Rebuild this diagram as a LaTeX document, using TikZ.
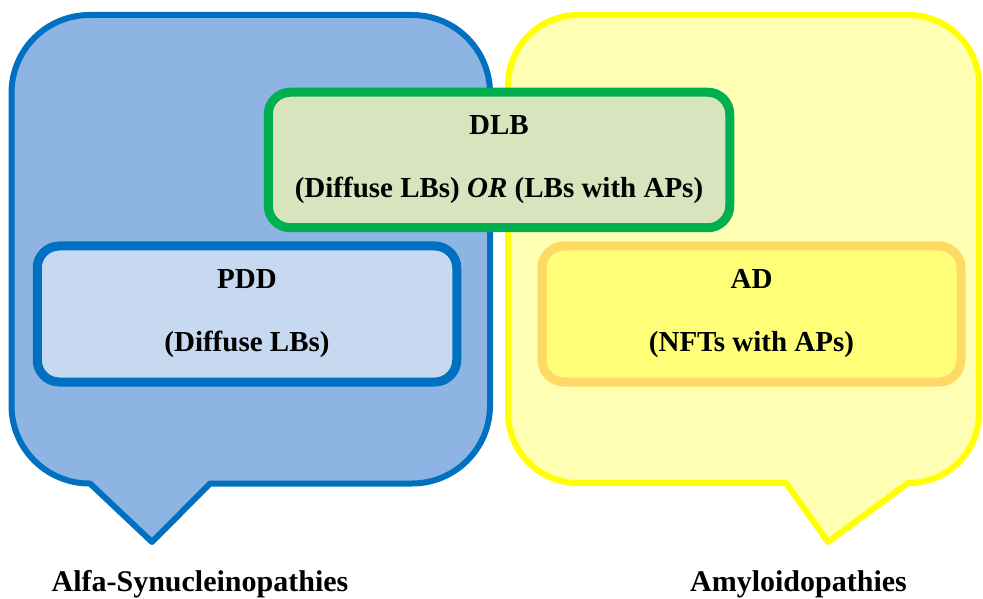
\documentclass[tikz,border=0pt]{standalone}
\usepackage{fontspec}
\setmainfont{Liberation Serif}
\usetikzlibrary{calc}

\definecolor{synline}{HTML}{0070C0}
\definecolor{synfill}{HTML}{8EB4E3}
\definecolor{pddfill}{HTML}{C6D9F1}
\definecolor{amyline}{HTML}{FFFF00}
\definecolor{amyfill}{HTML}{FFFFB3}
\definecolor{adline}{HTML}{FFD966}
\definecolor{adfill}{HTML}{FFFF77}
\definecolor{dlbline}{HTML}{00B050}
\definecolor{dlbfill}{HTML}{D7E4BD}

\tikzset{
  box/.style={rectangle, rounded corners=22pt, line width=9pt, minimum height=136pt,
    align=center, inner sep=0pt, font=\fontsize{29}{34}\selectfont\bfseries},
  bubble/.style={line width=6pt, line join=round},
  group/.style={anchor=base, inner sep=0pt, font=\fontsize{30}{34}\selectfont\bfseries}
}

\begin{document}
\begin{tikzpicture}[x=1pt, y=1pt]
      \useasboundingbox (0,0) rectangle (983,598);

      % the two speech bubbles
      \filldraw[bubble, draw=synline, fill=synfill] (90,114.5) -- (152,56) -- (210,114.5) -- (412,114.5)
        arc[start angle=270, end angle=360, radius=78] -- (490,505)
        arc[start angle=0, end angle=90, radius=78] -- (89.5,583)
        arc[start angle=90, end angle=180, radius=78] -- (11.5,192.5)
        arc[start angle=180, end angle=270, radius=78] -- cycle;
      \filldraw[bubble, draw=amyline, fill=amyfill] (786,115) -- (828,56) -- (908,115) -- (909,115)
        arc[start angle=270, end angle=360, radius=70] -- (979,513)
        arc[start angle=0, end angle=90, radius=70] -- (578,583)
        arc[start angle=90, end angle=180, radius=70] -- (508,185)
        arc[start angle=180, end angle=270, radius=70] -- cycle;

      \node[box, draw=synline, fill=pddfill, minimum width=419.5pt] (pdd) at (247,284) {PDD\\[29pt](Diffuse LBs)};
      \node[box, draw=adline, fill=adfill, minimum width=419pt] (ad) at (751.5,284) {AD\\[29pt](NFTs with APs)};
      \node[box, draw=dlbline, fill=dlbfill, minimum width=461.5pt, minimum height=135.5pt] (dlb) at (499,438)
        {DLB\\[29pt](Diffuse LBs) \textit{OR} (LBs with APs)};

      \node[group] (syn) at (200,7) {Alfa-Synucleinopathies};
      \node[group] (amy) at (798.5,7) {Amyloidopathies};
    \end{tikzpicture}
\end{document}
